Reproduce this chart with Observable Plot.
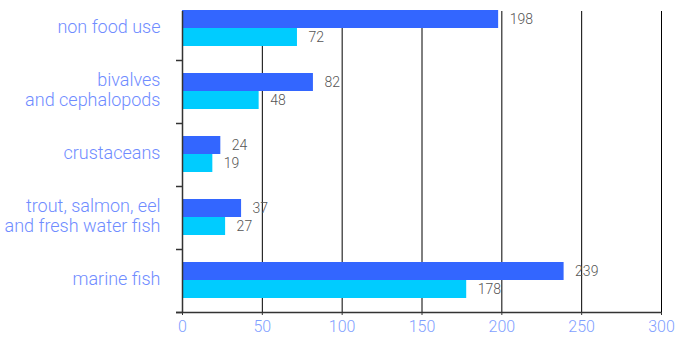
<!DOCTYPE html>
<html>
<head>
<meta charset="utf-8">
<script src="https://cdn.jsdelivr.net/npm/d3@7"></script>
<script src="https://cdn.jsdelivr.net/npm/@observablehq/plot@0.6"></script>
<style>
  html, body { margin: 0; padding: 0; background: #fff; }
  svg { font-family: Roboto, "DejaVu Sans", sans-serif; font-weight: 300; }
</style>
</head>
<body>
<div id="chart"></div>
<script>
const categories = ["non food use", "bivalves\nand cephalopods", "crustaceans", "trout, salmon, eel\nand fresh water fish", "marine fish"];
const seriesA = [198, 82, 24, 37, 239];   // dark blue
const seriesB = [72, 48, 19, 27, 178];    // light blue
const xTicks = [0, 50, 100, 150, 200, 250, 300];
const gridTicks = [50, 100, 150, 200, 250, 300];

const rowsA = categories.map((c, i) => ({cat: c, v: seriesA[i]}));
const rowsB = categories.map((c, i) => ({cat: c, v: seriesB[i]}));

const chart = Plot.plot({
  width: 676,
  height: 344,
  marginLeft: 182,
  marginRight: 15,
  marginTop: 11,
  marginBottom: 32,
  x: {domain: [0, 300], axis: null, label: null},
  y: {domain: categories, range: [-3, 312], padding: 0, axis: null},
  marks: [
    Plot.ruleX(gridTicks, {stroke: "#000", strokeWidth: 1}),
    Plot.barX(rowsA, {y: "cat", x: "v", fill: "#3366ff", insetTop: 13, insetBottom: 32}),
    Plot.barX(rowsB, {y: "cat", x: "v", fill: "#00ccff", insetTop: 31, insetBottom: 14}),
    Plot.text(rowsA, {y: "cat", x: "v", text: d => String(d.v), dy: -9, dx: 11, textAnchor: "start", fill: "#555", fontSize: 14}),
    Plot.text(rowsB, {y: "cat", x: "v", text: d => String(d.v), dy: 9, dx: 11, textAnchor: "start", fill: "#555", fontSize: 14}),
    Plot.ruleX([0], {stroke: "#333", strokeWidth: 1.5}),
    Plot.ruleY(categories, {y: d => d, dy: 31.5, x1: 0, x2: 0, insetLeft: -6, stroke: "#333", strokeWidth: 1.5}),
    Plot.ruleY([categories[categories.length - 1]], {y: d => d, dy: 31.5, x1: 0, x2: 300, insetLeft: -6, stroke: "#333", strokeWidth: 1.5}),
    Plot.text(categories, {y: d => d, x: 0, text: d => d, dx: -22, dy: -2, textAnchor: "end", fill: "#6f8cff", fontSize: 18, lineHeight: 1.1}),
    Plot.axisX(xTicks, {anchor: "bottom", label: null, tickSize: 3, tickPadding: 5, stroke: "#333", fill: "#7f9fff", fontSize: 16, tickFormat: d => String(d)})
  ]
});
document.getElementById("chart").appendChild(chart);
</script>
</body>
</html>
